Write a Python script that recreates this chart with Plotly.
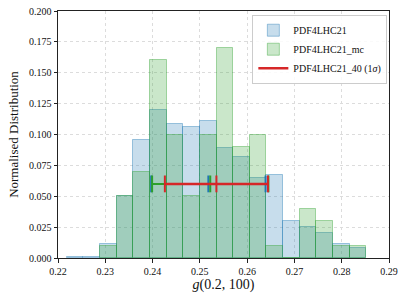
import plotly.graph_objects as go

# Bin edges (shared by both histograms)
bin_edges = [0.22183, 0.22535, 0.22887, 0.23239, 0.23592, 0.23944, 0.24296,
             0.24648, 0.25000, 0.25352, 0.25704, 0.26056, 0.26408, 0.26761,
             0.27113, 0.27465, 0.27817, 0.28169, 0.28521]

# PDF4LHC21 (blue) histogram: starts at bin_edges[0]
blue_heights = [0.001, 0.001, 0.011, 0.050, 0.0955, 0.120, 0.1085, 0.106,
                0.111, 0.089, 0.082, 0.065, 0.067, 0.030, 0.025, 0.020,
                0.011, 0.008]
blue_start = 0

# PDF4LHC21_mc (green) histogram: starts at bin_edges[2]
green_heights = [0.01, 0.05, 0.07, 0.16, 0.10, 0.05, 0.10, 0.17, 0.09, 0.10,
                 0.01, 0.0, 0.04, 0.03, 0.01, 0.01]
green_start = 2

# Central values and 1-sigma half widths (error bars at y = 0.06)
err_y = 0.06
blue_center, blue_err = 0.2518, 0.0121
green_center, green_err = 0.2522, 0.0123
red_center, red_err = 0.2535, 0.0109

labels = ["PDF4LHC21", "PDF4LHC21_mc", "PDF4LHC21_40 (1<i>σ</i>)"]

FONT = "'Liberation Serif', 'DejaVu Serif', serif"


def hist_geom(start, heights):
    lefts = bin_edges[start:start + len(heights)]
    rights = bin_edges[start + 1:start + 1 + len(heights)]
    centers = [(a + b) / 2 for a, b in zip(lefts, rights)]
    widths = [b - a for a, b in zip(lefts, rights)]
    return centers, widths


fig = go.Figure()

bc, bw = hist_geom(blue_start, blue_heights)
fig.add_trace(go.Bar(
    x=bc, y=blue_heights, width=bw, name=labels[0],
    marker=dict(color="rgba(31,119,180,0.25)",
                line=dict(color="rgba(31,119,180,0.4)", width=1)),
))
gc, gw = hist_geom(green_start, green_heights)
fig.add_trace(go.Bar(
    x=gc, y=green_heights, width=gw, name=labels[1],
    marker=dict(color="rgba(44,160,44,0.25)",
                line=dict(color="rgba(44,160,44,0.4)", width=1)),
))


def add_errbar(center, err, color, lw, name=None):
    xs = [center - err, center + err]
    fig.add_trace(go.Scatter(
        x=xs, y=[err_y, err_y], mode="lines",
        line=dict(color=color, width=lw),
        name=name if name else "", showlegend=name is not None,
    ))
    fig.add_trace(go.Scatter(
        x=[center - err, center, center + err], y=[err_y] * 3, mode="markers",
        marker=dict(symbol="line-ns", size=12,
                    line=dict(color=color, width=2)),
        showlegend=False, hoverinfo="skip",
    ))


add_errbar(blue_center, blue_err, "#1f77b4", 2)
add_errbar(green_center, green_err, "#2ca02c", 2)
add_errbar(red_center, red_err, "#d62728", 2.5, labels[2])

axis_common = dict(
    showline=True, mirror=True, linecolor="#222", linewidth=1,
    ticks="outside", ticklen=3.5, tickcolor="#222", tickwidth=0.8,
    showgrid=True, gridcolor="#dcdcdc", gridwidth=0.8, griddash="dot",
    zeroline=False, automargin=False,
    tickfont=dict(family=FONT, size=10, color="#111"),
)

fig.update_layout(
    width=407, height=302,
    margin=dict(l=58, r=18, t=11, b=44),
    paper_bgcolor="white", plot_bgcolor="white",
    barmode="overlay", bargap=0,
    font=dict(family=FONT, color="#111"),
    showlegend=True,
    legend=dict(
        x=0.995, y=0.985, xanchor="right", yanchor="top",
        bgcolor="rgba(255,255,255,0.85)", bordercolor="#cccccc", borderwidth=1,
        font=dict(family=FONT, size=10), itemwidth=30, tracegroupgap=0,
    ),
    xaxis=dict(
        range=[0.22, 0.29], dtick=0.01, tick0=0.22, tickformat=".2f",
        title=dict(text="<i>g</i>(0.2, 100)", font=dict(family=FONT, size=14),
                   standoff=3),
        **axis_common,
    ),
    yaxis=dict(
        range=[0, 0.2], dtick=0.025, tick0=0, tickformat=".3f",
        title=dict(text="Normalised Distribution",
                   font=dict(family=FONT, size=13), standoff=7),
        **axis_common,
    ),
)

fig.write_html(
    "out.html",
    config={"displayModeBar": False},
    post_script="document.body.style.margin='0';document.body.style.overflow='hidden';",
)
